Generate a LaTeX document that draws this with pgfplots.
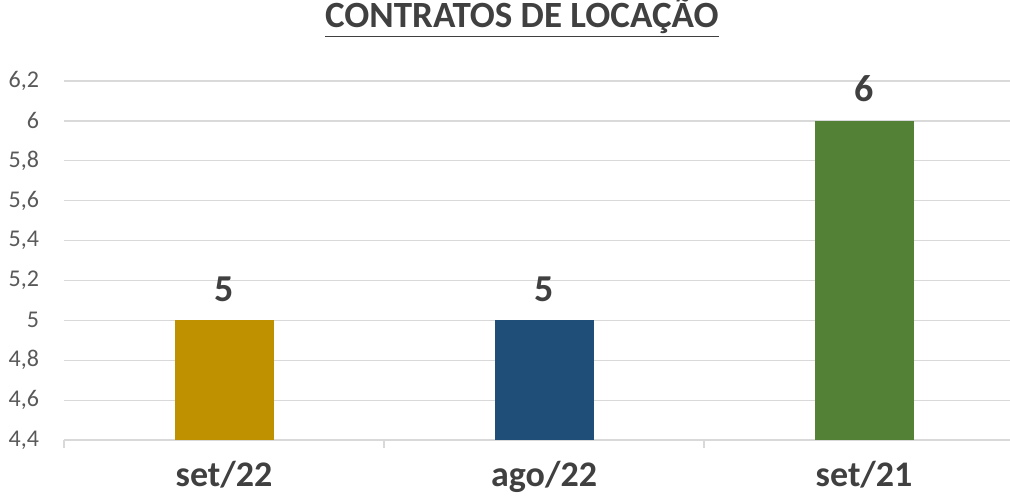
\documentclass[border=0pt]{standalone}
\usepackage{fontspec}
\setmainfont{Carlito}
\usepackage{pgfplots}
\pgfplotsset{compat=1.18}

\definecolor{barGold}{HTML}{BF9000}
\definecolor{barBlue}{HTML}{1F4E79}
\definecolor{barGreen}{HTML}{538135}
\definecolor{gridGray}{HTML}{D9D9D9}
\definecolor{tickText}{HTML}{595959}
\definecolor{labText}{HTML}{404040}

\begin{document}
\begin{tikzpicture}
\begin{axis}[
    scale only axis,
    width=473pt, height=179.5pt,
    xmin=-0.5, xmax=2.456,
    ymin=4.4, ymax=6.2,
    ytick={4.4,4.6,...,6.21},
    xtick={0,1,2},
    xticklabels={set/22, ago/22, set/21},
    minor xtick={-0.5,0.5,1.5},
    major tick length=0pt,
    minor tick length=4pt,
    tick align=outside,
    ymajorgrids,
    grid style={gridGray, line width=0.6pt},
    axis x line*=bottom,
    axis y line*=left,
    y axis line style={draw=none},
    x axis line style={gridGray, line width=0.6pt, -},
    minor tick style={gridGray, line width=0.6pt},
    ytick style={draw=none},
    yticklabel style={font=\fontsize{12}{14}\selectfont, text=tickText, anchor=east, xshift=-9pt},
    xticklabel style={font=\fontsize{18}{21}\selectfont\bfseries, text=labText, yshift=-9.5pt, inner sep=1pt},
    /pgf/number format/.cd, use comma, fixed, precision=1, assume math mode=true,
    /pgfplots/.cd,
    ybar, bar width=49.5pt, bar shift=0pt,
    nodes near coords,
    nodes near coords style={font=\fontsize{19}{22}\selectfont\bfseries, text=labText, yshift=6pt},
    point meta=explicit symbolic,
    title={\underline{CONTRATOS DE LOCAÇÃO}},
    title style={font=\fontsize{18.5}{22}\selectfont\bfseries, text=labText, at={(0.484,1)}, anchor=south, yshift=12pt},
]
\addplot[fill=barGold, draw=none] coordinates {(0,5) [5]};
\addplot[fill=barBlue, draw=none] coordinates {(1,5) [5]};
\addplot[fill=barGreen, draw=none] coordinates {(2,6) [6]};
\end{axis}
\pgfresetboundingbox
\path[use as bounding box] (-32pt,-30pt) rectangle (473pt,220pt);
\end{tikzpicture}
\end{document}
